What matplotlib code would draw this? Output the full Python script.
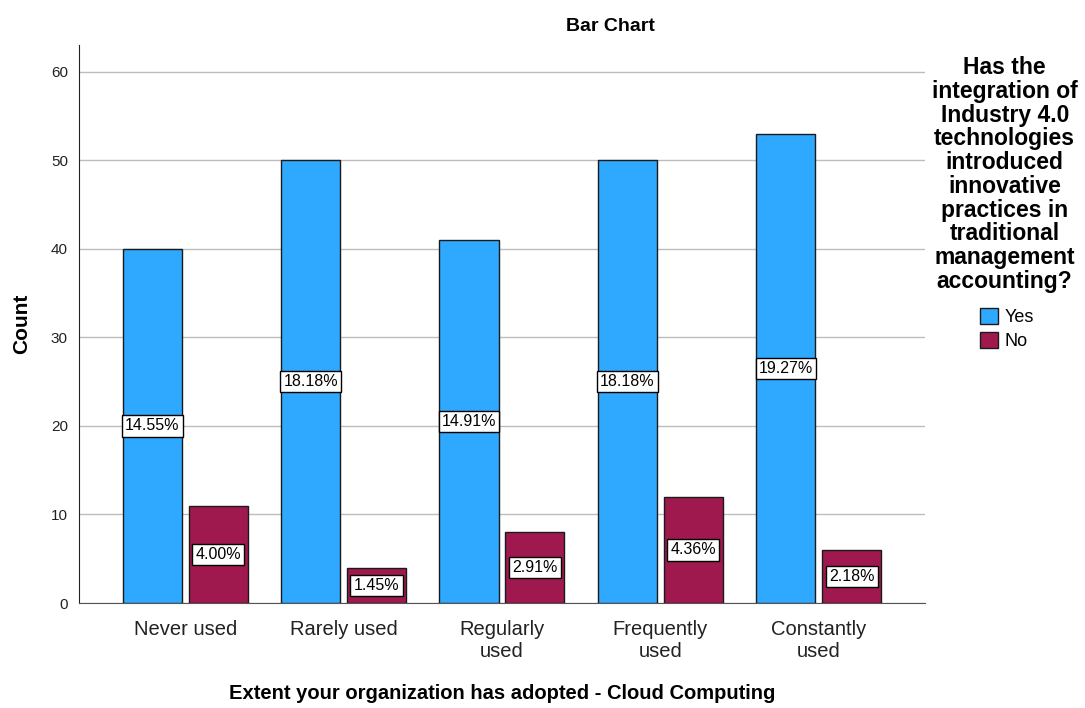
import numpy as np
import matplotlib
matplotlib.use("Agg")
import matplotlib.pyplot as plt

categories = ["Never used", "Rarely used", "Regularly\nused", "Frequently\nused", "Constantly\nused"]
yes_counts = [40, 50, 41, 50, 53]
no_counts = [11, 4, 8, 12, 6]
series_names = ["Yes", "No"]
colors = ["#2EA9FF", "#A0194E"]
legend_title = ("Has the\nintegration of\nIndustry 4.0\ntechnologies\nintroduced\ninnovative\n"
                "practices in\ntraditional\nmanagement\naccounting?")

plt.rcParams["font.family"] = ["Liberation Sans", "DejaVu Sans"]

total = sum(yes_counts) + sum(no_counts)

fig = plt.figure(figsize=(10.85, 7.08), dpi=100)
ax = fig.add_axes([0.0728, 0.1483, 0.7797, 0.7881])

x = np.arange(len(categories))
w = 0.373
off = 0.208
for vals, dx, c, name in zip([yes_counts, no_counts], [-off, off], colors, series_names):
    ax.bar(x + dx, vals, width=w, color=c, edgecolor="#1a1a1a", linewidth=1.0,
           label=name, zorder=3)
    # percentage of all respondents, centred in each bar
    for xi, v in zip(x + dx, vals):
        ax.text(xi, v / 2, "%.2f%%" % (100.0 * v / total), ha="center", va="center",
                fontsize=11.5, color="black", zorder=5,
                bbox=dict(boxstyle="square,pad=0.2", fc="white", ec="black", lw=1.0))

ax.set_xlim(-0.67, 4.67)
ax.set_ylim(0, 63)
ax.set_yticks([0, 10, 20, 30, 40, 50, 60])
ax.set_xticks(x)
ax.set_xticklabels(categories, fontsize=14.5, color="#222222", linespacing=1.25)
ax.tick_params(axis="y", length=0, labelsize=11, pad=8, colors="#222222")
ax.tick_params(axis="x", length=0, pad=12)
ax.yaxis.grid(True, color="#bdbdbd", linewidth=1.0, zorder=0)
ax.set_axisbelow(True)
for s in ["top", "right"]:
    ax.spines[s].set_visible(False)
ax.spines["left"].set_color("#222222")
ax.spines["bottom"].set_color("#555555")

ax.set_ylabel("Count", fontsize=15, fontweight="bold", labelpad=14)
fig.text(0.4626, 0.02, "Extent your organization has adopted - Cloud Computing",
         ha="center", va="center", fontsize=14.5, fontweight="bold")
fig.text(0.563, 0.963, "Bar Chart", ha="center", va="center", fontsize=14, fontweight="bold")

# legend title drawn as its own centred block, entries below it
fig.text(0.926, 0.7535, legend_title, ha="center", va="center", multialignment="center",
         fontsize=16.5, fontweight="bold", linespacing=1.04)
ax.legend(loc="center", bbox_to_anchor=(0.928, 0.5353), bbox_transform=fig.transFigure,
          frameon=False, fontsize=13, handlelength=1.0, handleheight=1.0,
          handletextpad=0.4, labelspacing=0.3)

plt.savefig("out.png", dpi=100)
